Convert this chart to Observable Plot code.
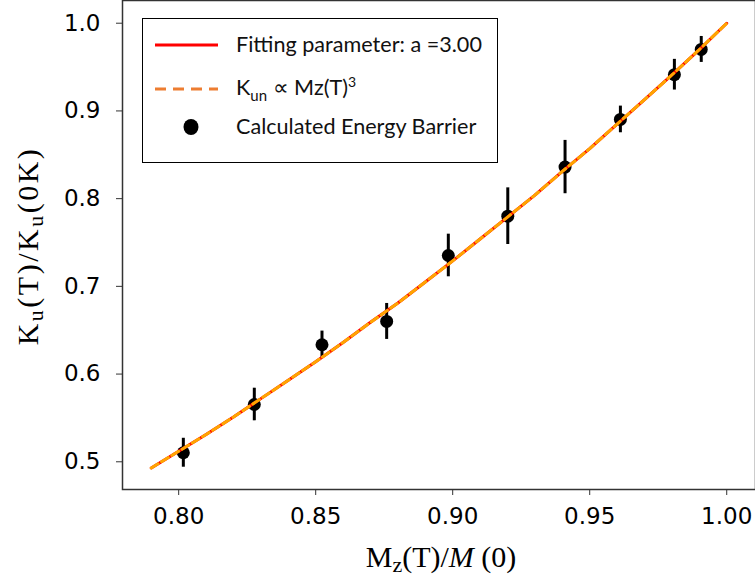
<!DOCTYPE html>
<html>
<head>
<meta charset="utf-8">
<script src="https://cdn.jsdelivr.net/npm/d3@7"></script>
<script src="https://cdn.jsdelivr.net/npm/@observablehq/plot@0.6"></script>
<style>
  body { margin: 0; background: white; }
  #wrap { position: relative; width: 755px; height: 580px; overflow: hidden; background: white; }
  #legend { position: absolute; left: 142px; top: 18px; width: 356px; height: 145px;
            border: 1.3px solid #000; background: white; box-sizing: border-box;
            font-family: Lato, "Open Sans", sans-serif; font-size: 21.6px; color: #111; }
  #legend .txt { position: absolute; left: 93px; white-space: nowrap; }
  #legend svg { position: absolute; left: 0; top: 0; overflow: visible; }
</style>
</head>
<body>
<div id="wrap">
  <div id="chart"></div>
  <div id="legend">
    <svg width="355" height="144">
      <line x1="12" x2="75" y1="26" y2="26" stroke="red" stroke-width="3"></line>
      <line x1="12" x2="75" y1="70" y2="70" stroke="#ED7D31" stroke-width="3" stroke-dasharray="11,7"></line>
      <ellipse cx="48" cy="108" rx="7.5" ry="8" fill="black"></ellipse>
    </svg>
    <div class="txt" style="top:12px">Fitting parameter: a =3.00</div>
    <div class="txt" style="top:54px">K<sub style="font-size:15px">un</sub> ∝ Mz(T)<sup style="font-size:14px">3</sup></div>
    <div class="txt" style="top:94px">Calculated Energy Barrier</div>
  </div>
</div>
<script>
// Calculated energy barrier points
const mzRatio = [0.8017, 0.8276, 0.8523, 0.8759, 0.8984, 0.9201, 0.9410, 0.9612, 0.9809, 0.9907];
const kuRatio = [0.5103, 0.5653, 0.6334, 0.6600, 0.7352, 0.7800, 0.8360, 0.8903, 0.9413, 0.9701];
const kuError = [0.0165, 0.0186, 0.0156, 0.0205, 0.0243, 0.0323, 0.0304, 0.0152, 0.0175, 0.0148];

// Fitted curve
const fitX = [0.79, 0.80, 0.81, 0.82, 0.83, 0.84, 0.85, 0.86, 0.87, 0.88, 0.89,
              0.90, 0.91, 0.92, 0.93, 0.94, 0.95, 0.96, 0.97, 0.98, 0.99, 1.00];
const fitY = [0.493, 0.512, 0.531, 0.551, 0.572, 0.593, 0.614, 0.636, 0.659, 0.681, 0.705,
              0.729, 0.754, 0.779, 0.804, 0.831, 0.857, 0.885, 0.913, 0.941, 0.970, 1.000];

const xTicks = [0.80, 0.85, 0.90, 0.95, 1.00];
const yTicks = [0.5, 0.6, 0.7, 0.8, 0.9, 1.0];

const points = mzRatio.map((x, i) => ({x, y: kuRatio[i], lo: kuRatio[i] - kuError[i], hi: kuRatio[i] + kuError[i]}));
const fit = fitX.map((x, i) => ({x, y: fitY[i]}));

const chart = Plot.plot({
  width: 755,
  height: 580,
  marginLeft: 122,
  marginRight: 0,
  marginTop: 0,
  marginBottom: 91,
  style: {fontFamily: "DejaVu Sans", fontSize: "23px", color: "#000", background: "white"},
  x: {domain: [0.7795, 1.0105]},
  y: {domain: [0.4684, 1.0259]},
  marks: [
    Plot.frame({stroke: "#333", strokeWidth: 1.5}),
    Plot.axisX({ticks: xTicks, tickFormat: d => d.toFixed(2), tickSize: 6, tickPadding: 12, label: null, fontSize: 23, stroke: "#333"}),
    Plot.axisY({ticks: yTicks, tickFormat: d => d.toFixed(1), tickSize: 6, tickPadding: 16, label: null, fontSize: 23, stroke: "#333"}),
    Plot.ruleX(points, {x: "x", y1: "lo", y2: "hi", stroke: "black", strokeWidth: 3}),
    Plot.dot(points, {x: "x", y: "y", r: 6.5, fill: "black"}),
    Plot.line(fit, {x: "x", y: "y", stroke: "red", strokeWidth: 3}),
    Plot.line(fit, {x: "x", y: "y", stroke: "orange", strokeWidth: 3, strokeDasharray: "8,4"})
  ]
});
document.getElementById("chart").appendChild(chart);

const svg = d3.select(chart);
// y-axis label
const yl = svg.append("text")
  .attr("transform", "translate(38,246) rotate(-90)")
  .attr("text-anchor", "middle")
  .attr("font-family", "Liberation Serif, serif")
  .attr("font-size", 30)
  .attr("letter-spacing", 2.5)
  .attr("fill", "#000");
yl.append("tspan").text("K");
yl.append("tspan").attr("font-size", 22).attr("dy", 5).text("u");
yl.append("tspan").attr("dy", -5).text("(T)/K");
yl.append("tspan").attr("font-size", 22).attr("dy", 5).text("u");
yl.append("tspan").attr("dy", -5).text("(0K)");

// x-axis label
const xl = svg.append("text")
  .attr("x", 441).attr("y", 567)
  .attr("text-anchor", "middle")
  .attr("font-family", "Liberation Serif, serif")
  .attr("font-size", 30)
  .attr("fill", "#000");
xl.append("tspan").text("M");
xl.append("tspan").attr("font-size", 22).attr("dy", 5).text("z");
xl.append("tspan").attr("dy", -5).text("(T)/");
xl.append("tspan").attr("font-style", "italic").text("M");
xl.append("tspan").text(" (0)");
</script>
</body>
</html>
